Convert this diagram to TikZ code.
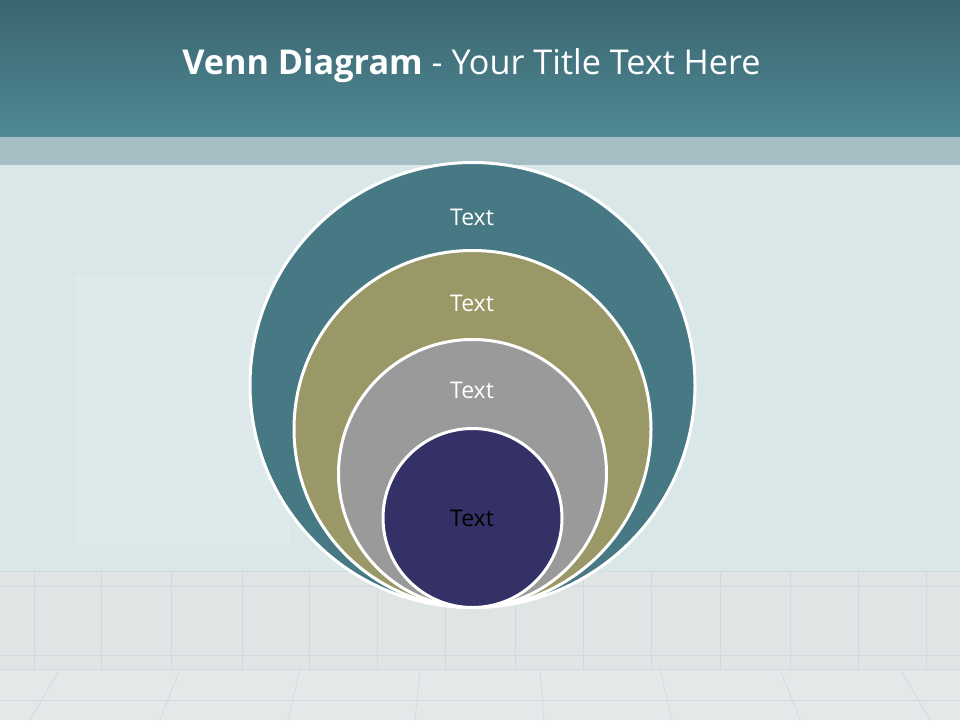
\documentclass[tikz,border=0pt]{standalone}
\usepackage{fontspec}
\setmainfont{Open Sans}
\definecolor{bandtop}{HTML}{3A6570}
\definecolor{bandbot}{HTML}{4F8993}
\definecolor{stripe}{HTML}{A5BEC3}
\definecolor{wall}{HTML}{DAE7E8}
\definecolor{wallpatch}{HTML}{DDE9EA}
\definecolor{tiles}{HTML}{DFE4E4}
\definecolor{floorc}{HTML}{E3E9E9}
\definecolor{tileline}{HTML}{D3D9DA}
\definecolor{cteal}{HTML}{477984}
\definecolor{colive}{HTML}{999866}
\definecolor{cgray}{HTML}{9A9A9A}
\definecolor{cnavy}{HTML}{343166}
\tikzset{
  ring/.style={circle, draw=white, line width=3pt, inner sep=0pt, outer sep=0pt},
  lbl/.style={anchor=base, font=\fontsize{23}{27}\selectfont, inner sep=0pt},
  tline/.style={draw=tileline, line width=0.7pt}
}
\begin{document}
\begin{tikzpicture}[x=1pt,y=-1pt]
\useasboundingbox (0,0) rectangle (960,720);
% background
\shade[top color=bandtop, bottom color=bandbot] (0,0) rectangle (960,137);
\fill[stripe] (0,137) rectangle (960,165);
\fill[wall] (0,165) rectangle (960,571);
\fill[wallpatch] (75,275) rectangle (290,545);
\fill[tiles] (0,571) rectangle (960,669);
\fill[floorc] (0,669) rectangle (960,720);
% tile band lines
\draw[tline] (0,571) -- (960,571);
\draw[tline] (0,586) -- (960,586);
\draw[tline] (0,655) -- (960,655);
\draw[tline] (0,669) -- (960,669);
\foreach \x in {34,101,171,242,309,377,445,515,583,651,720,790,858,926}
  \draw[tline] (\x,571) -- (\x,669);
% floor lines
\draw[tline] (0,700) -- (960,700);
\foreach \x/\d in {60/-30,180/-20,300/-12,420/-5,540/4,660/12,780/20,900/30}
  \draw[tline] (\x,669) -- ++(\d,51);
% circles
\node[ring, fill=cteal, minimum size=445pt] (c1) at (472.5,385) {};
\node[ring, fill=colive, minimum size=357pt] (c2) at (472.5,429) {};
\node[ring, fill=cgray, minimum size=268pt] (c3) at (472.5,473.5) {};
\node[ring, fill=cnavy, minimum size=179pt] (c4) at (472.5,518) {};
% labels
\node[lbl, text=white] (t1) at (472,225) {Text};
\node[lbl, text=white] (t2) at (472,311.5) {Text};
\node[lbl, text=white] (t3) at (472,398) {Text};
\node[lbl, text=black] (t4) at (472,526.5) {Text};
% title
\node[anchor=base, text=white, inner sep=0pt, font=\fontsize{34.2}{40}\selectfont] (title) at (471.5,74)
  {\textbf{Venn Diagram} - Your Title Text Here};
\end{tikzpicture}
\end{document}
